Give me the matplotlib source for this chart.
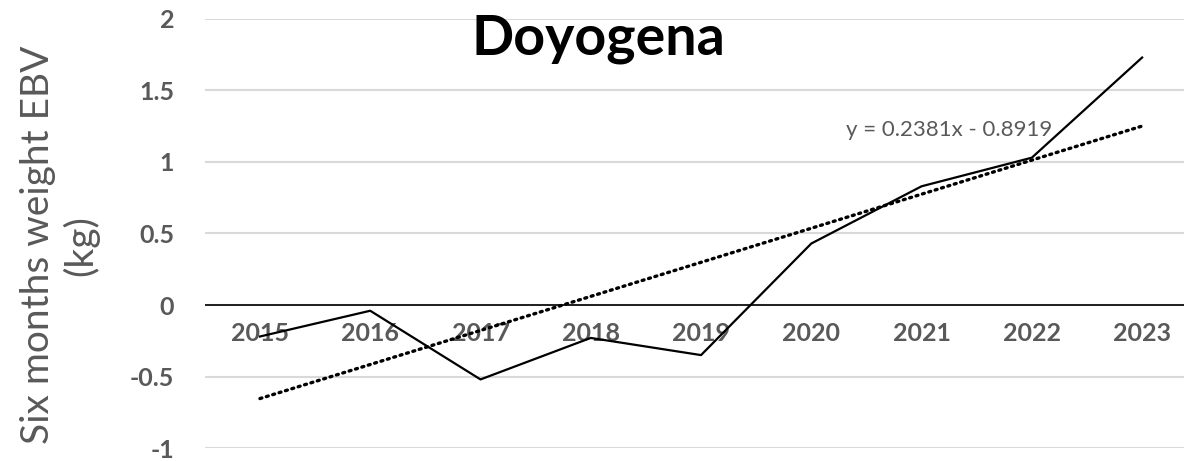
import matplotlib
matplotlib.use("Agg")
import numpy as np
from matplotlib import pyplot as plt

years = ["2015", "2016", "2017", "2018", "2019", "2020", "2021", "2022", "2023"]
ebv = [-0.22, -0.04, -0.52, -0.23, -0.35, 0.43, 0.83, 1.03, 1.73]
slope = 0.2381
intercept = -0.8919
eq_text = "y = 0.2381x - 0.8919"

plt.rcParams['font.family'] = ['Lato', 'DejaVu Sans']

fig = plt.figure(figsize=(11.84, 4.61), dpi=100)
ax = fig.add_axes([0.173, 0.028, 0.827, 0.931])

x = np.arange(1, len(years) + 1)
ax.plot(x, ebv, color='black', lw=1.6, zorder=3)
trend = slope * x + intercept
ax.plot(x, trend, color='black', lw=2.4, linestyle=(0, (0.6, 1.4)),
        dash_capstyle='round', zorder=3)

ax.set_xlim(0.5, 0.5 + 979 / 110.25)
ax.set_ylim(-1, 2)
ax.set_yticks([-1, -0.5, 0, 0.5, 1, 1.5, 2])
ax.set_yticklabels(["-1", "-0.5", "0", "0.5", "1", "1.5", "2"])
ax.set_xticks(x)
ax.set_xticklabels(years)

ax.grid(axis='y', color='#d9d9d9', lw=1.5, zorder=0)
ax.axhline(0, color='black', lw=1.2, zorder=2)
for s in ['top', 'right', 'left', 'bottom']:
    ax.spines[s].set_visible(False)
ax.spines['bottom'].set_position(('data', 0))

ax.tick_params(axis='both', length=0, labelsize=18, labelcolor='#595959')
ax.tick_params(axis='x', pad=12)
ax.tick_params(axis='y', pad=22)
for lab in ax.get_xticklabels() + ax.get_yticklabels():
    lab.set_fontweight('bold')
    lab.set_zorder(1)

ax.set_ylabel("Six months weight EBV\n(kg)", fontsize=28, color='#595959',
              linespacing=1.2)
ax.yaxis.label.set_va('center')
ax.yaxis.set_label_coords(-0.148, 0.473)

fig.text(0.505, 0.915, "Doyogena", fontsize=40, fontweight='bold',
         ha='center', va='center', color='black')

ax.text(7.25, 1.22, eq_text, fontsize=16, color='#595959', ha='center', va='center')

fig.savefig("out.png", dpi=100)
